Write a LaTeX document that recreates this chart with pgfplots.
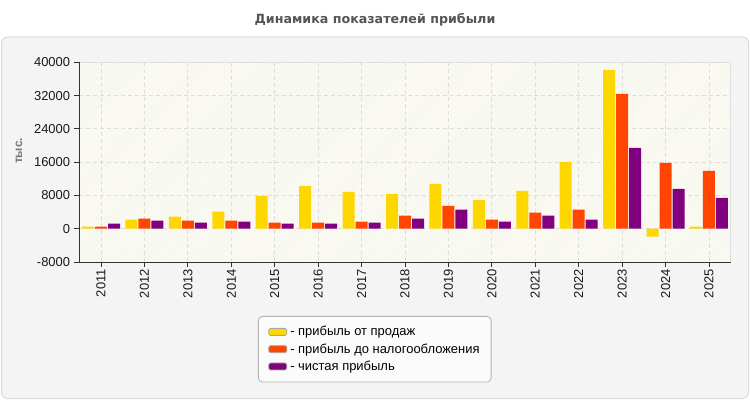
\documentclass[border=0pt]{standalone}
\usepackage{fontspec}
\setmainfont{Liberation Sans}
\newfontfamily\titlefont{DejaVu Sans}
\usepackage{pgfplots}
\usepackage{pgfplotstable}
\pgfplotsset{compat=1.18}
\usetikzlibrary{patterns}

\definecolor{cY}{HTML}{FFD700}
\definecolor{cO}{HTML}{FF4500}
\definecolor{cP}{HTML}{800080}
\definecolor{panel}{HTML}{F4F4F4}
\definecolor{panelborder}{HTML}{DCDCDC}
\definecolor{plotbg}{HTML}{FDFDF4}
\definecolor{gridc}{HTML}{DDDDDD}
\definecolor{hatch}{HTML}{EFEFEA}
\definecolor{titlec}{HTML}{555555}
\definecolor{labc}{HTML}{777777}
\definecolor{axc}{HTML}{333333}

\pgfplotstableread{
idx sales pretax net
0  480   480   1200
1  2160  2400  1920
2  2880  1920  1440
3  4080  1920  1680
4  7920  1440  1200
5  10320 1440  1200
6  8880  1680  1440
7  8400  3120  2400
8  10800 5520  4560
9  6960  2160  1680
10 9120  3840  3120
11 16080 4560  2160
12 38160 32400 19440
13 -1920 15840 9600
14 480   13920 7440
}\datatable

\pgfplotsset{
  lg/.style={legend image code/.code={\filldraw[##1,draw=gray!70,rounded corners=1.5bp] (0bp,-3.5bp) rectangle (18bp,3.5bp);\path (20bp,0bp);}}
}

\begin{document}
\begin{tikzpicture}
\fill[white] (0bp,0bp) rectangle (750bp,400bp);
\useasboundingbox (0bp,0bp) rectangle (750bp,400bp);
\filldraw[fill=panel,draw=panelborder,line width=1bp,rounded corners=6bp] (1.5bp,1.5bp) rectangle (748.5bp,363bp);
\node[font=\titlefont\bfseries\fontsize{12.7}{15}\selectfont,text=titlec] at (375bp,380bp) {Динамика показателей прибыли};
\begin{axis}[
  at={(79.3bp,138bp)}, anchor=south west,
  width=651.4bp, height=199.7bp, scale only axis,
  xmin=-0.5, xmax=14.5, ymin=-8000, ymax=40000,
  ybar=1bp, bar width=12bp,
  xtick={0,...,14},
  xticklabels={2011,2012,2013,2014,2015,2016,2017,2018,2019,2020,2021,2022,2023,2024,2025},
  ytick={-8000,0,...,40000},
  scaled y ticks=false,
  /pgf/number format/.cd, 1000 sep={}, assume math mode=true, /pgfplots/.cd,
  axis lines=left,
  axis line style={-,draw=axc,line width=0.9bp},
  tick align=outside,
  major tick length=5bp,
  tick style={draw=axc,line width=0.8bp},
  xmajorgrids, ymajorgrids,
  grid style={draw=gridc,dash pattern=on 4bp off 3bp,line width=0.8bp},
  axis background/.style={fill=plotbg,draw=gridc,line width=0.8bp,postaction={pattern=north east lines,pattern color=hatch}},
  tick label style={font=\fontsize{13}{15}\selectfont,text=black!90},
  xticklabel style={rotate=90,anchor=east,inner sep=2bp},
  yticklabel style={inner sep=2bp, xshift=-2bp},
  every axis y label/.style={at={(axis description cs:-0.0926,0.556)},rotate=90,anchor=center,font=\bfseries\fontsize{12}{14}\selectfont,text=labc},
  ylabel={тыс.},
  legend style={at={(axis description cs:0.2743,-0.2704)},anchor=north west,
    draw=gray!60,fill=white!97!gray,rounded corners=4bp,line width=0.8bp,
    font=\fontsize{13}{15}\selectfont,inner xsep=10bp,inner ysep=8.5bp,
    row sep=3.3bp, nodes={inner sep=1.5bp}},
  legend cell align=left,
]
\addplot[fill=cY,draw=none,lg] table[x=idx,y=sales]{\datatable};
\addlegendentry{- прибыль от продаж}
\addplot[fill=cO,draw=none,lg] table[x=idx,y=pretax]{\datatable};
\addlegendentry{- прибыль до налогообложения}
\addplot[fill=cP,draw=none,lg] table[x=idx,y=net]{\datatable};
\addlegendentry{- чистая прибыль}
\end{axis}
\end{tikzpicture}
\end{document}
